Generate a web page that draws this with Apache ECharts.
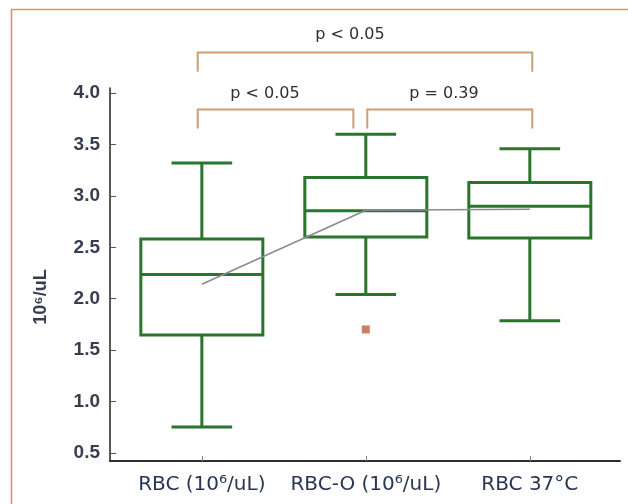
<!DOCTYPE html>
<html>
<head>
<meta charset="utf-8">
<script src="https://cdn.jsdelivr.net/npm/echarts@6/dist/echarts.min.js"></script>
<style>
  html, body { margin: 0; padding: 0; background: #ffffff; }
  #chart { width: 628px; height: 504px; }
</style>
</head>
<body>
<div id="chart"></div>
<script>
// ---- data ----
const categories = ['RBC (10\u2076/uL)', 'RBC-O (10\u2076/uL)', 'RBC 37\u00B0C'];
const whiskerLow  = [0.75, 2.04, 1.785];
const q1          = [1.646, 2.60, 2.59];
const median      = [2.236, 2.855, 2.90];
const q3          = [2.58, 3.18, 3.13];
const whiskerHigh = [3.32, 3.60, 3.46];
const means       = [2.14, 2.86, 2.87];
const outlierCategory = [2];
const outlierValue    = [1.70];
const yTickValues = [0.5, 1.0, 1.5, 2.0, 2.5, 3.0, 3.5, 4.0];
const yAxisName = '10\u2076/uL';
// significance brackets: [xStart, xEnd, yBar, yLegEnd]
const bracketX1 = [0.975, 0.975, 2.009];
const bracketX2 = [3.015, 1.924, 3.015];
const bracketBarY = [4.396, 3.84, 3.84];
const bracketLegY = [4.207, 3.657, 3.657];
const pLabels = ['p < 0.05', 'p < 0.05', 'p = 0.39'];
const pLabelX = [1.903, 1.385, 2.477];
const pLabelY = [4.564, 3.99, 3.99];

// ---- build ----
const boxData = categories.map((c, i) => [i + 1, whiskerLow[i], q1[i], median[i], q3[i], whiskerHigh[i]]);
const meanData = means.map((m, i) => [i + 1, m]);
const outlierData = outlierCategory.map((c, i) => [c, outlierValue[i]]);
const bracketData = bracketX1.map((x, i) => [x, bracketX2[i], bracketBarY[i], bracketLegY[i]]);
const pData = pLabels.map((t, i) => [pLabelX[i], pLabelY[i], t]);

const GREEN = '#2b742d';
const BOX_W = 0.744;
const CAP_W = 0.37;

const chart = echarts.init(document.getElementById('chart'), null, { renderer: 'canvas' });
chart.setOption({
  animation: false,
  backgroundColor: '#ffffff',
  graphic: [
    { type: 'rect', shape: { x: 11.5, y: 9.5, width: 800, height: 700 },
      style: { fill: '#ffffff', stroke: '#e48f66', lineWidth: 1.6 }, z: -10, silent: true },
    { type: 'text', x: 41, y: 297, rotation: Math.PI / 2,
      style: { text: yAxisName, font: 'bold 18px "Liberation Sans", Arial, sans-serif',
               fill: '#363d4e', align: 'center', verticalAlign: 'middle' } }
  ],
  grid: { left: 110, right: 8, top: 88, bottom: 43, containLabel: false },
  xAxis: {
    type: 'value', min: 0.44, max: 3.55,
    splitLine: { show: false },
    axisLine: { show: true, lineStyle: { color: '#2e2e2e', width: 2 } },
    axisTick: { show: true, inside: true, length: 5, customValues: [1, 2, 3],
                lineStyle: { color: '#888888', width: 1 } },
    axisLabel: { customValues: [1, 2, 3], margin: 14,
                 formatter: v => categories[Math.round(v) - 1] || '',
                 color: '#2a3654', fontSize: 20, fontFamily: '"DejaVu Sans", Verdana, sans-serif' }
  },
  yAxis: {
    type: 'value', min: 0.42, max: 4.05,
    splitLine: { show: false },
    axisLine: { show: true, lineStyle: { color: '#2e2e2e', width: 1.6 } },
    axisTick: { show: true, inside: true, length: 6, customValues: yTickValues,
                lineStyle: { color: '#555555', width: 1 } },
    axisLabel: { customValues: yTickValues, margin: 10,
                 formatter: v => v.toFixed(1),
                 color: '#363d4e', fontSize: 19, fontWeight: 'bold',
                 fontFamily: '"Liberation Sans", Arial, sans-serif' }
  },
  series: [
    {
      type: 'custom', name: 'box', data: boxData, z: 2,
      encode: { x: 0, y: [1, 2, 3, 4, 5] },
      renderItem: function (params, api) {
        const x = api.value(0);
        const pLow = api.coord([x, api.value(1)]);
        const pQ1 = api.coord([x, api.value(2)]);
        const pMed = api.coord([x, api.value(3)]);
        const pQ3 = api.coord([x, api.value(4)]);
        const pHigh = api.coord([x, api.value(5)]);
        const bw = api.size([BOX_W, 0])[0];
        const cw = api.size([CAP_W, 0])[0];
        const cx = pMed[0];
        const ls = { stroke: GREEN, lineWidth: 3, fill: null };
        return { type: 'group', children: [
          { type: 'rect', shape: { x: cx - bw / 2, y: pQ3[1], width: bw, height: pQ1[1] - pQ3[1] },
            style: { stroke: GREEN, lineWidth: 3, fill: 'rgba(255,255,255,0)' } },
          { type: 'line', shape: { x1: cx - bw / 2, y1: pMed[1], x2: cx + bw / 2, y2: pMed[1] }, style: ls },
          { type: 'line', shape: { x1: cx, y1: pQ3[1], x2: cx, y2: pHigh[1] }, style: ls },
          { type: 'line', shape: { x1: cx, y1: pQ1[1], x2: cx, y2: pLow[1] }, style: ls },
          { type: 'line', shape: { x1: cx - cw / 2, y1: pHigh[1], x2: cx + cw / 2, y2: pHigh[1] }, style: ls },
          { type: 'line', shape: { x1: cx - cw / 2, y1: pLow[1], x2: cx + cw / 2, y2: pLow[1] }, style: ls }
        ]};
      }
    },
    {
      type: 'line', name: 'mean', data: meanData, z: 3,
      symbol: 'none', lineStyle: { color: '#8a8a94', width: 1.6 }
    },
    {
      type: 'scatter', name: 'outlier', data: outlierData, z: 3,
      symbol: 'rect', symbolSize: 8, itemStyle: { color: '#bf5f38' }
    },
    {
      type: 'custom', name: 'brackets', data: bracketData, clip: false, z: 2,
      renderItem: function (params, api) {
        const a = api.coord([api.value(0), api.value(2)]);
        const b = api.coord([api.value(1), api.value(2)]);
        const aL = api.coord([api.value(0), api.value(3)]);
        const bL = api.coord([api.value(1), api.value(3)]);
        return { type: 'polyline',
          shape: { points: [[aL[0], aL[1]], [a[0], a[1]], [b[0], b[1]], [bL[0], bL[1]]] },
          style: { stroke: '#c9a077', lineWidth: 2, fill: null } };
      }
    },
    {
      type: 'custom', name: 'pvalues', data: pData, clip: false, z: 2,
      renderItem: function (params, api) {
        const p = api.coord([api.value(0), api.value(1)]);
        return { type: 'text', x: p[0], y: p[1],
          style: { text: pLabels[params.dataIndex], fill: '#2f2f2f',
                   font: '16px "DejaVu Sans", Verdana, sans-serif',
                   align: 'center', verticalAlign: 'middle' } };
      }
    }
  ]
});
</script>
</body>
</html>
